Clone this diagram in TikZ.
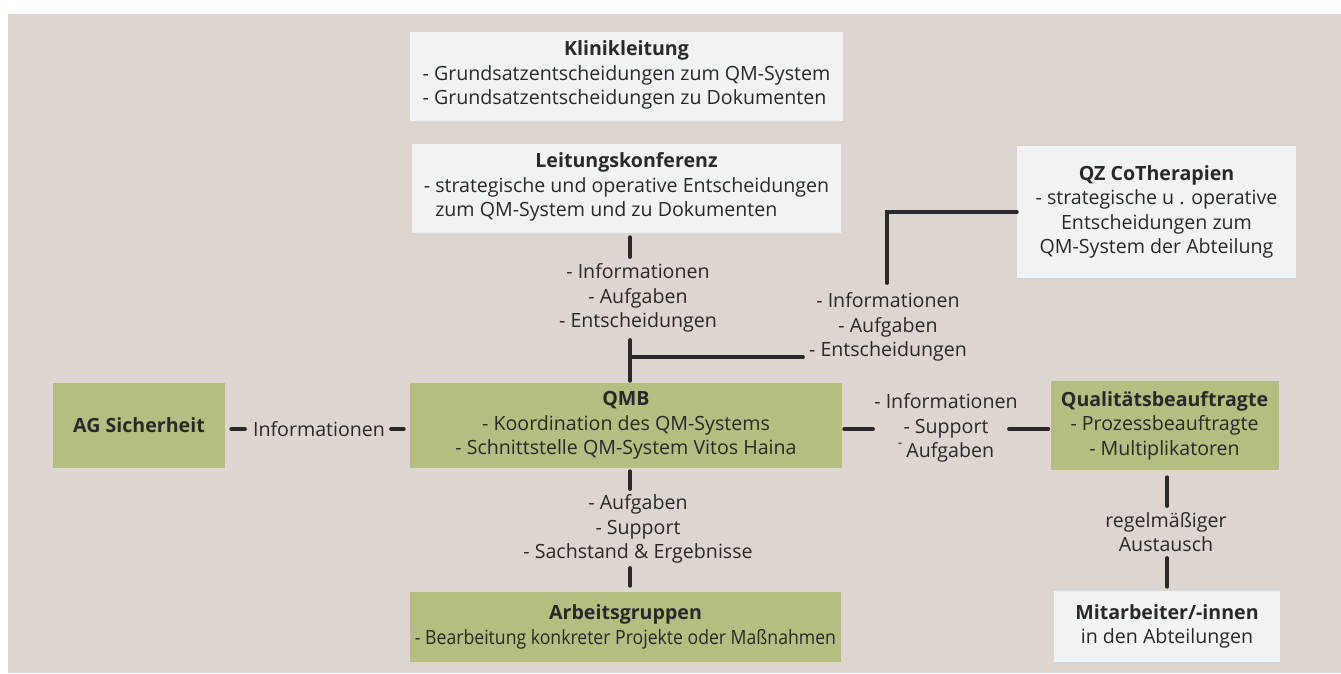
\documentclass[tikz,border=0pt]{standalone}
\usepackage{fontspec}
\usepackage{graphicx}
\setmainfont{Open Sans}
\usetikzlibrary{calc}
\definecolor{bg}{HTML}{DDD5D0}
\definecolor{lightbox}{HTML}{F1F2F4}
\definecolor{greenbox}{HTML}{B3BE80}
\definecolor{ink}{HTML}{2A2828}
\tikzset{
  base/.style={inner sep=0pt, align=center, text=ink, font=\fontsize{19.6}{24.6}\selectfont},
  lbox/.style={base, rectangle, fill=lightbox},
  gbox/.style={base, rectangle, fill=greenbox},
  lbl/.style={base},
  conn/.style={draw=ink, line width=3.8pt, line cap=round},
}
\begin{document}
\begin{tikzpicture}[x=1pt,y=-1pt]
\useasboundingbox (0,0) rectangle (1341,673);
\fill[white] (0,0) rectangle (1341,673);
\fill[bg] (8,14) rectangle (1341,673);

% boxes
\node[lbox, minimum width=433pt, minimum height=89pt] (kl) at (626.5,76.5)
  {\textbf{Klinikleitung}\\\begin{tabular}[t]{@{}l@{}}- Grundsatzentscheidungen zum QM-System\\- Grundsatzentscheidungen zu Dokumenten\end{tabular}};
\node[lbox, minimum width=429pt, minimum height=89pt] (lk) at (626.5,188.5)
  {\textbf{Leitungskonferenz}\\\begin{tabular}[t]{@{}l@{}}- strategische und operative Entscheidungen\\\phantom{- }zum QM-System und zu Dokumenten\end{tabular}};
\node[lbox, minimum width=279pt, minimum height=132pt] (qz) at (1156.5,212)
  {\textbf{QZ CoTherapien}\\- strategische u . operative\\Entscheidungen zum\\QM-System der Abteilung};
\node[gbox, minimum width=172pt, minimum height=85pt] (ag) at (139,425.5)
  {\textbf{AG Sicherheit}};
\node[gbox, minimum width=432pt, minimum height=85pt] (qmb) at (626,425.5)
  {\textbf{QMB}\\- Koordination des QM-Systems\\- Schnittstelle QM-System Vitos Haina};
\node[gbox, minimum width=228pt, minimum height=89pt] (qb) at (1164.5,425.5)
  {\textbf{Qualitätsbeauftragte}\\- Prozessbeauftragte\\- Multiplikatoren};
\node[gbox, minimum width=431pt, minimum height=70pt] (ar) at (625.5,627)
  {\textbf{Arbeitsgruppen}\\\scalebox{0.9}[1]{- Bearbeitung konkreter Projekte oder Maßnahmen}};
\node[lbox, minimum width=226pt, minimum height=71pt] (ma) at (1167,626.5)
  {\textbf{Mitarbeiter/-innen}\\in den Abteilungen};

% labels
\node[lbl] (l1) at (638,298) {- Informationen\\- Aufgaben\\- Entscheidungen};
\node[lbl] (l2) at (888,327) {- Informationen\\- Aufgaben\\- Entscheidungen};
\node[lbl] (il) at (319,429) {Informationen};
\node[lbl] (l3) at (946,428) {- Informationen\\- Support\\\raisebox{10pt}{\fontsize{14}{14}\selectfont -}\hspace{4pt}Aufgaben};
\node[lbl] (l4) at (638,529) {- Aufgaben\\- Support\\- Sachstand \& Ergebnisse};
\node[lbl] (l5) at (1166,532) {regelmäßiger\\Austausch};

% connectors
\draw[conn] ($(lk.south)+(3.5,4)$) -- ($(l1.center)+(-8,-41)$);
\draw[conn] ($(l1.center)+(-8,42)$) -- ($(qmb.north)+(4,-2)$);
\draw[conn] ($(l1.center)+(-8,59)$) -- ($(l2.center)+(-85,30)$);
\draw[conn] (qz.west) -| ($(l2.center)+(-1,-44)$);
\draw[conn] ($(ag.east |- il.center)+(6,0)$) -- ($(il.center)+(-74,0)$);
\draw[conn] ($(il.center)+(72,0)$) -- ($(qmb.west |- il.center)+(-6,0)$);
\draw[conn] ($(qmb.east |- l3.center)+(2,1)$) -- ($(l3.center)+(-73,1)$);
\draw[conn] ($(l3.center)+(63,1)$) -- ($(qb.west |- l3.center)+(-2,1)$);
\draw[conn] ($(qmb.south)+(4,3)$) -- ($(l4.center)+(-8,-40)$);
\draw[conn] ($(l4.center)+(-8,39)$) -- ($(ar.north)+(4.5,-6)$);
\draw[conn] ($(qb.south)+(2.5,7)$) -- ($(l5.center)+(1,-26)$);
\draw[conn] ($(l5.center)+(1,26)$) -- ($(ma.north)+(0,-4)$);
\end{tikzpicture}
\end{document}
